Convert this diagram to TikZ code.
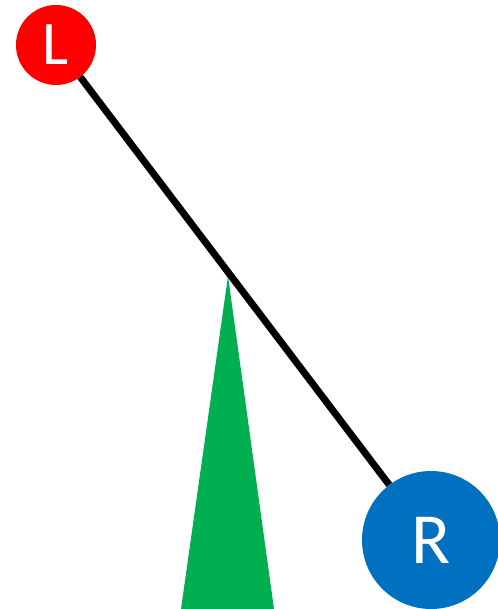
\documentclass[tikz,border=0pt]{standalone}
\usepackage{fontspec}
\setmainfont{Carlito}
\definecolor{cred}{HTML}{FF0000}
\definecolor{cblue}{HTML}{0070C0}
\definecolor{cgreen}{HTML}{00AF50}
\begin{document}
\begin{tikzpicture}[x=1pt,y=-1pt,
  ball/.style={circle,inner sep=0pt,text=white},
  link/.style={line width=7pt,black}]
\useasboundingbox (0,0) rectangle (497,609);
\fill[cgreen] (228,276) -- (181,609) -- (274,609) -- cycle;
\node[ball,fill=cred,minimum size=80pt,font=\fontsize{62}{62}\selectfont] (L) at (56,45) {L};
\node[ball,fill=cblue,minimum size=138pt,font=\fontsize{72}{72}\selectfont] (R) at (431,540) {R};
\draw[link] (L) -- (R);
\end{tikzpicture}
\end{document}
